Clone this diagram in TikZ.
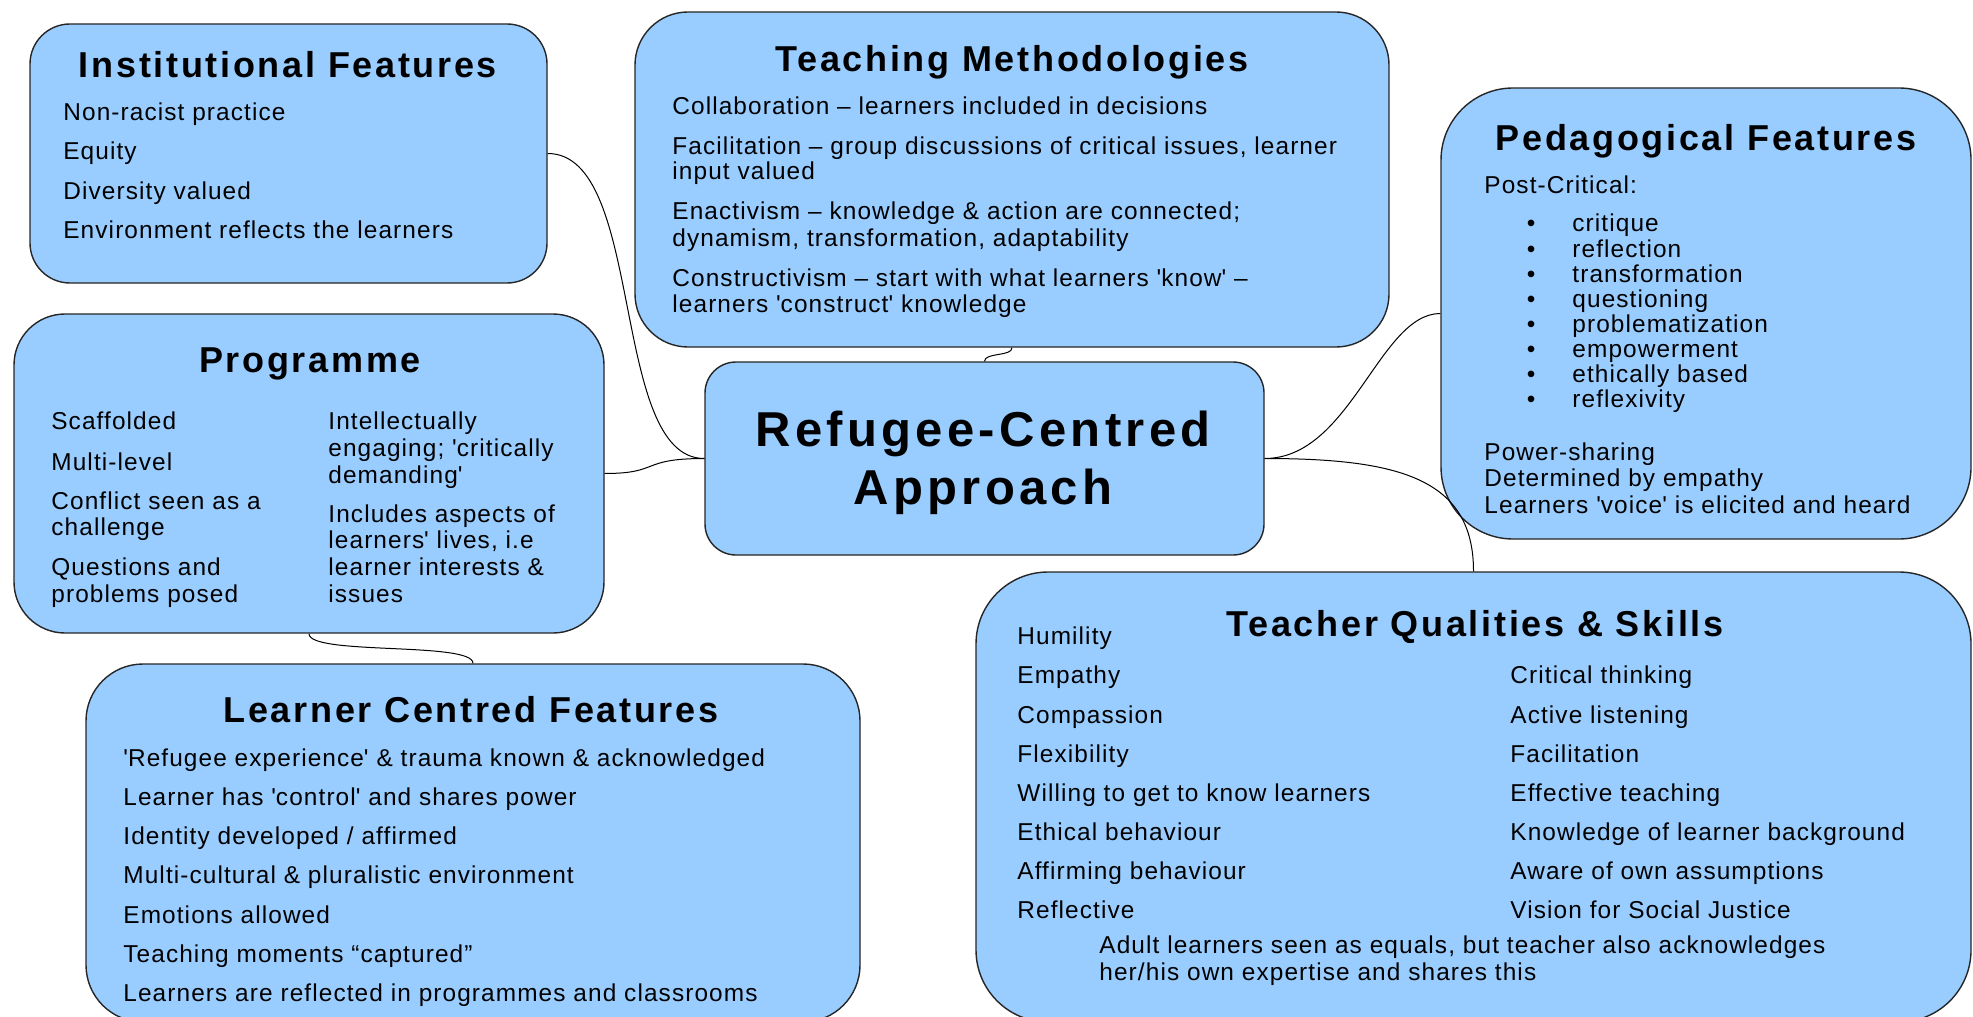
\documentclass[tikz,border=0pt]{standalone}
\usepackage{fontspec}
\setmainfont{Liberation Sans}
\newfontfamily\bodyfont[LetterSpace=4.5]{Liberation Sans}
\newfontfamily\titlefont[LetterSpace=7.5]{Liberation Sans}
\newfontfamily\centfont[LetterSpace=8.8]{Liberation Sans}
\definecolor{boxblue}{HTML}{99CCFF}
\newcommand\q{\textquotesingle}
\begin{document}
\begin{tikzpicture}[x=0.5pt,y=-0.5pt,
  box/.style={draw=black!85, line width=0.7pt, fill=boxblue, rectangle, inner sep=0pt},
  conn/.style={draw=black, line width=0.5pt},
  txt/.style={anchor=base west, inner sep=0pt, font=\bodyfont\fontsize{12.2pt}{14pt}\selectfont},
  ttl/.style={anchor=base, inner sep=0pt, font=\titlefont\bfseries\fontsize{18pt}{21pt}\selectfont},
  ctr/.style={anchor=base, inner sep=0pt, font=\centfont\bfseries\fontsize{24.5pt}{29pt}\selectfont},
  bul/.style={anchor=base, inner sep=0pt, font=\bodyfont\fontsize{12.2pt}{14pt}\selectfont},
]
\useasboundingbox (0,0) rectangle (1973,1016);

% boxes
\node[box, minimum width=258.5pt, minimum height=129.5pt, rounded corners=20pt] (inst) at (288.5,153.5) {};
\node[box, minimum width=377pt, minimum height=167.5pt, rounded corners=26.5pt] (teach) at (1012,179.5) {};
\node[box, minimum width=265pt, minimum height=225.5pt, rounded corners=36pt] (ped) at (1706,313.5) {};
\node[box, minimum width=295pt, minimum height=159.5pt, rounded corners=25.5pt] (prog) at (309,473.5) {};
\node[box, minimum width=279.5pt, minimum height=96.5pt, rounded corners=15.5pt] (cent) at (984.5,458.5) {};
\node[box, minimum width=387pt, minimum height=179pt, rounded corners=28.5pt] (learn) at (473,843) {};
\node[box, minimum width=497.5pt, minimum height=225pt, rounded corners=36pt] (tq) at (1473.5,797) {};

% connectors
\draw[conn] (inst.east) .. controls +(98,0) and +(-95,0) .. (cent.west);
\draw[conn] (prog.east) .. controls +(56,0) and +(-65,0) .. (cent.west);
\draw[conn] (prog.south) .. controls +(0,22) and +(0,-22) .. (learn.north);
\draw[conn] (teach.south) .. controls +(0,9) and +(0,-9) .. (cent.north);
\draw[conn] (ped.west) .. controls +(-61,0) and +(86,0) .. (cent.east);
\draw[conn] (cent.east) .. controls +(136,0) and +(0,-92) .. (tq.north);

% Institutional Features
\node[ttl] (instT) at (288,78) {Institutional Features};
\node[txt] (inst1) at (63,121) {Non-racist practice};
\node[txt] (inst2) at (63,160) {Equity};
\node[txt] (inst3) at (63,199) {Diversity valued};
\node[txt] (inst4) at (63,238) {Environment reflects the learners};

% Teaching Methodologies
\node[ttl] (teachT) at (1012,72) {Teaching Methodologies};
\node[txt] (teach1) at (672,115) {Collaboration – learners included in decisions};
\node[txt] (teach2) at (672,155) {Facilitation – group discussions of critical issues, learner};
\node[txt] (teach3) at (672,180) {input valued};
\node[txt] (teach4) at (672,220) {Enactivism – knowledge \& action are connected;};
\node[txt] (teach5) at (672,247) {dynamism, transformation, adaptability};
\node[txt] (teach6) at (672,286) {Constructivism – start with what learners \q know\q{} –};
\node[txt] (teach7) at (672,312) {learners \q construct\q{} knowledge};

% Pedagogical Features
\node[ttl] (pedT) at (1706,151) {Pedagogical Features};
\node[txt] (ped0) at (1484,194) {Post-Critical:};
\node[bul] (pb1) at (1531,232) {•};
\node[bul] (pb2) at (1531,257) {•};
\node[bul] (pb3) at (1531,282) {•};
\node[bul] (pb4) at (1531,307) {•};
\node[bul] (pb5) at (1531,332) {•};
\node[bul] (pb6) at (1531,357) {•};
\node[bul] (pb7) at (1531,382) {•};
\node[bul] (pb8) at (1531,407) {•};
\node[txt] (ped1) at (1572,232) {critique};
\node[txt] (ped2) at (1572,257) {reflection};
\node[txt] (ped3) at (1572,282) {transformation};
\node[txt] (ped4) at (1572,307) {questioning};
\node[txt] (ped5) at (1572,332) {problematization};
\node[txt] (ped6) at (1572,357) {empowerment};
\node[txt] (ped7) at (1572,382) {ethically based};
\node[txt] (ped8) at (1572,407) {reflexivity};
\node[txt] (ped9) at (1484,460) {Power-sharing};
\node[txt] (ped10) at (1484,486) {Determined by empathy};
\node[txt] (ped11) at (1484,513) {Learners \q voice\q{} is elicited and heard};

% Programme
\node[ttl] (progT) at (310,372) {Programme};
\node[txt] (progL1) at (51,429) {Scaffolded};
\node[txt] (progL2) at (51,470) {Multi-level};
\node[txt] (progL3) at (51,509) {Conflict seen as a};
\node[txt] (progL4) at (51,535) {challenge};
\node[txt] (progL5) at (51,575) {Questions and};
\node[txt] (progL6) at (51,602) {problems posed};
\node[txt] (progR1) at (328,429) {Intellectually};
\node[txt] (progR2) at (328,456) {engaging; \q critically};
\node[txt] (progR3) at (328,483) {demanding\q};
\node[txt] (progR4) at (328,522) {Includes aspects of};
\node[txt] (progR5) at (328,548) {learners\q{} lives, i.e};
\node[txt] (progR6) at (328,575) {learner interests \&};
\node[txt] (progR7) at (328,602) {issues};

% Centre
\node[ctr] (cent1) at (983,446) {Refugee-Centred};
\node[ctr] (cent2) at (983,504) {Approach};

% Learner Centred Features
\node[ttl] (learnT) at (471,722) {Learner Centred Features};
\node[txt] (learn1) at (123,766) {\q Refugee experience\q{} \& trauma known \& acknowledged};
\node[txt] (learn2) at (123,805) {Learner has \q control\q{} and shares power};
\node[txt] (learn3) at (123,844) {Identity developed / affirmed};
\node[txt] (learn4) at (123,883) {Multi-cultural \& pluralistic environment};
\node[txt] (learn5) at (123,923) {Emotions allowed};
\node[txt] (learn6) at (123,962) {Teaching moments “captured”};
\node[txt] (learn7) at (123,1001) {Learners are reflected in programmes and classrooms};

% Teacher Qualities & Skills
\node[ttl] (tqT) at (1475,636) {Teacher Qualities \& Skills};
\node[txt] (tqL1) at (1017,644) {Humility};
\node[txt] (tqL2) at (1017,683) {Empathy};
\node[txt] (tqL3) at (1017,723) {Compassion};
\node[txt] (tqL4) at (1017,762) {Flexibility};
\node[txt] (tqL5) at (1017,801) {Willing to get to know learners};
\node[txt] (tqL6) at (1017,840) {Ethical behaviour};
\node[txt] (tqL7) at (1017,879) {Affirming behaviour};
\node[txt] (tqL8) at (1017,918) {Reflective};
\node[txt] (tqR1) at (1510,683) {Critical thinking};
\node[txt] (tqR2) at (1510,723) {Active listening};
\node[txt] (tqR3) at (1510,762) {Facilitation};
\node[txt] (tqR4) at (1510,801) {Effective teaching};
\node[txt] (tqR5) at (1510,840) {Knowledge of learner background};
\node[txt] (tqR6) at (1510,879) {Aware of own assumptions};
\node[txt] (tqR7) at (1510,918) {Vision for Social Justice};
\node[txt] (tqB1) at (1099,953) {Adult learners seen as equals, but teacher also acknowledges};
\node[txt] (tqB2) at (1099,980) {her/his own expertise and shares this};
\end{tikzpicture}
\end{document}
